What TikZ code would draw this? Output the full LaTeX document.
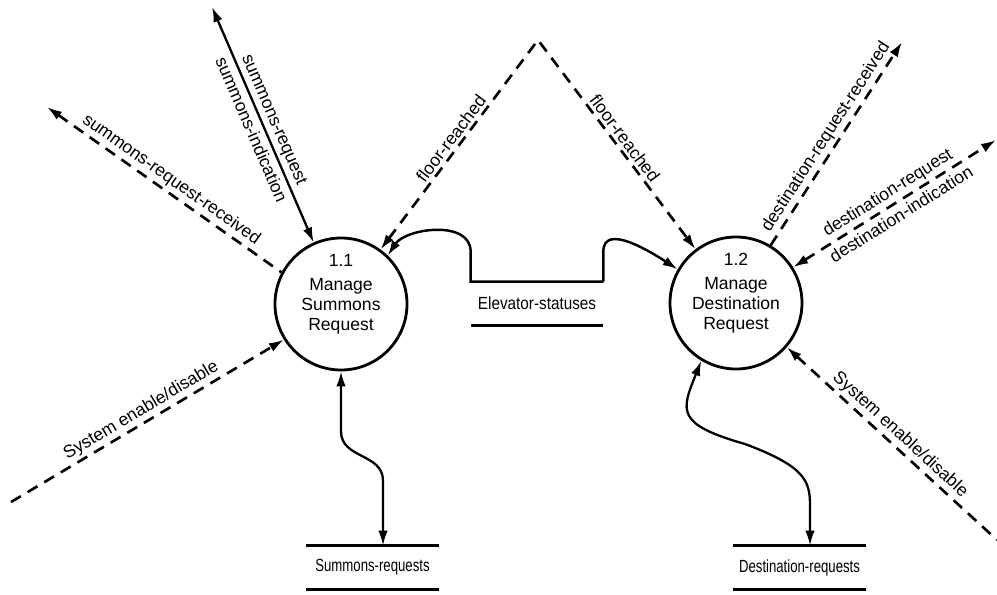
\documentclass[tikz,border=0pt]{standalone}
\usepackage{fontspec}
\setmainfont{Liberation Sans}
\newfontfamily\storefont[FakeStretch=0.75]{Liberation Sans}
\newfontfamily\elevfont[FakeStretch=0.87]{Liberation Sans}
\usetikzlibrary{positioning,arrows.meta,calc}
\tikzset{
  dataflow/.style={line width=1.3pt},
  eventflow/.style={line width=1.5pt, dash pattern=on 6.5pt off 4.5pt},
  procnode/.style={draw, circle, line width=1.6pt, minimum size=2.64cm, inner sep=0pt},
  proctext/.style={align=center, font=\fontsize{10}{11.5}\selectfont},
  storenode/.style={minimum width=2.64cm, minimum height=0.86cm, inner sep=0pt},
  storeline/.style={line width=1.4pt},
  flowlabel/.style={sloped, font=\fontsize{10}{12}\selectfont, inner sep=1.5pt}
}

\begin{document}
\begin{tikzpicture}[>={Latex[length=3mm,width=1.9mm]}]
  \useasboundingbox (0,0) rectangle (19.94,11.88);
  % processes
  \node[procnode] (p11) at (6.82,5.80) {};
  \node[procnode] (p12) at (14.72,5.82) {};
  \node[proctext] at ([yshift=0.19cm]p11.center) {1.1\\[2pt]Manage\\Summons\\Request};
  \node[proctext] at ([yshift=0.19cm]p12.center) {1.2\\[2pt]Manage\\Destination\\Request};
  % stores
  \node[storenode, font=\elevfont] (es) at (10.74,5.81) {Elevator-statuses};
  \node[storenode, font=\storefont] (ss) at (7.45,0.53) {Summons-requests};
  \node[storenode, font=\storefont] (ds) at (15.99,0.53) {Destination-requests};
  \draw[storeline] (es.south west) -- (es.south east);
  \draw[storeline] (ss.north west) -- (ss.north east);
  \draw[storeline] (ss.south west) -- (ss.south east);
  \draw[storeline] (ds.north west) -- (ds.north east);
  \draw[storeline] (ds.south west) -- (ds.south east);
  \coordinate (sstop) at ([xshift=0.21cm]ss.north);
  \coordinate (dstop) at ([xshift=0.21cm]ds.north);
  % free ends
  \coordinate (sumtop) at (4.24,11.74);
  \coordinate (srrtip) at (0.94,9.74);
  \coordinate (sysleft) at (0.22,1.84);
  \coordinate (apex) at (10.76,11.08);
  \coordinate (drrtip) at (18.04,11.04);
  \coordinate (drqtip) at (19.92,9.08);
  \coordinate (sysright) at (19.94,1.08);

  % flows of 1.1
  \draw[dataflow, <->] (sumtop) -- node[flowlabel, above] {summons-request}
    node[flowlabel, below, inner sep=2.5pt] {summons-indication} (p11.114);
  \draw[eventflow, <-] (srrtip) -- node[flowlabel, above] {summons-request-received} (p11.152);
  \draw[eventflow, ->] (sysleft) -- node[flowlabel, above] {System enable/disable} (p11.212);
  \draw[dataflow, <->] (p11.south) -- ++(0,-1.2)
    .. controls +(0,-0.55) and +(0,0.55) .. ($(sstop)+(0,1.3)$) -- (sstop);

  % floor reached
  \draw[eventflow, <->] (p11.54) -- node[flowlabel, above] {floor-reached} (apex)
    -- node[flowlabel, above] {floor-reached} (p12.127);

  % elevator statuses
  \draw[storeline, ->] (es.north east) -- (es.north west) -- ++(0,0.6) to[out=90, in=57] (p11.46);
  \draw[storeline, ->] (es.north east) -- ++(0,0.6) to[out=90, in=147] (p12.150);

  % flows of 1.2
  \draw[eventflow, ->] (p12.59) -- node[flowlabel, above] {destination-request-received} (drrtip);
  \draw[eventflow, <->] (p12.32) -- node[flowlabel, above] {destination-request}
    node[flowlabel, below, inner sep=2.5pt] {destination-indication} (drqtip);
  \draw[eventflow, <-] (p12.319) -- node[flowlabel, above] {System enable/disable} (sysright);
  \draw[dataflow, <->] (p12.239) .. controls +(-0.4,-1.0) and +(-1.4,0.4) .. (14.9,3.0)
    .. controls +(1.2,-0.45) and +(0,0.5) .. ($(dstop)+(0,0.8)$) -- (dstop);
\end{tikzpicture}
\end{document}
